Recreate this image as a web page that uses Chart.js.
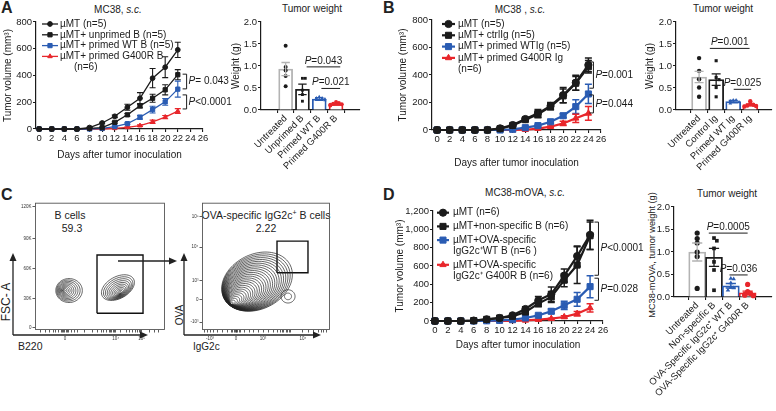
<!DOCTYPE html>
<html><head><meta charset="utf-8">
<script src="https://cdn.jsdelivr.net/npm/chart.js@4.4.1/dist/chart.umd.min.js"></script>
<style>
body{margin:0;width:776px;height:411px;position:relative;background:#fff;overflow:hidden;font-family:"Liberation Sans",Arial,Helvetica,sans-serif;color:#222;}
canvas{position:absolute;}
.t{position:absolute;font-size:10px;line-height:12px;white-space:nowrap;transform:translateX(-50%);}
.L{position:absolute;font-weight:bold;font-size:16px;line-height:16px;}
.rot{position:absolute;white-space:nowrap;transform:translate(-50%,-50%) rotate(-90deg);}
</style></head><body>
<div class="L" style="left:1px;top:0px">A</div>
<div class="L" style="left:383px;top:0px">B</div>
<div class="L" style="left:1px;top:187px">C</div>
<div class="L" style="left:383px;top:187px">D</div>
<div class="t" style="left:118px;top:4px">MC38, <i>s.c.</i></div>
<div class="t" style="left:312px;top:3px">Tumor weight</div>
<div class="t" style="left:520px;top:4px">MC38 , <i>s.c.</i></div>
<div class="t" style="left:723px;top:3px">Tumor weight</div>
<div class="t" style="left:525px;top:187px">MC38-mOVA, <i>s.c.</i></div>
<div class="t" style="left:727px;top:188px">Tumor weight</div>
<div class="t" style="left:70px;top:209px;font-size:10.5px">B cells</div>
<div class="t" style="left:72px;top:222px;font-size:10.5px">59.3</div>
<div class="t" style="left:266px;top:209px;font-size:10.5px">OVA-specific IgG2c<sup style="font-size:7px;line-height:0">+</sup> B cells</div>
<div class="t" style="left:266px;top:222px;font-size:10.5px">2.22</div>
<div class="rot" style="left:6px;top:302px;font-size:12px">FSC- A</div>
<div style="position:absolute;left:18px;top:340px;font-size:10.5px">B220</div>
<div class="rot" style="left:179px;top:315px;font-size:10px">OVA</div>
<div style="position:absolute;left:193px;top:341px;font-size:10px">IgG2c</div>
<div class="rot" style="left:652px;top:255px;font-size:9.2px">MC38-mOVA, tumor weight (g)</div>
<svg width="776" height="411" style="position:absolute;left:0;top:0;pointer-events:none;z-index:5">
<g stroke="#222" stroke-width="1.3" fill="none">
<line x1="13" y1="335" x2="13" y2="259"/><line x1="13" y1="335" x2="142" y2="335"/>
<line x1="184" y1="335" x2="184" y2="259"/><line x1="184" y1="335" x2="315" y2="335"/>
<line x1="118" y1="261" x2="171" y2="261"/>
</g>
<g fill="#222">
<polygon points="13,253 9.5,261 16.5,261"/><polygon points="148,335 140,331.5 140,338.5"/>
<polygon points="184,253 180.5,261 187.5,261"/><polygon points="321,335 313,331.5 313,338.5"/>
<polygon points="177,261 169,257.5 169,264.5"/>
</g></svg>
<script>
// ================= DATA =================
const dayTicks = [0,2,4,6,8,10,12,14,16,18,20,22,24,26];
const daysA  = [0,2,4,6,8,10,12,14,16,18,20,22];
const daysBD = [0,2,4,6,8,10,12,14,16,18,20,22,24];

// Panel A – tumor volume
const aMuMT        = [0,0,0,0,11,45,95,163,230,380,462,592];
const aMuMTErr     = [0,0,0,0,3,6,10,22,42,72,78,57];
const aUnprimed    = [0,0,0,0,5,10,50,106,173,230,293,406];
const aUnprimedErr = [0,0,0,0,2,3,6,10,15,30,38,38];
const aWT          = [0,0,0,0,0,4,18,40,88,145,203,298];
const aWTErr       = [0,0,0,0,0,2,4,6,14,25,25,60];
const aG400R       = [0,0,0,0,0,0,5,12,25,54,89,134];
const aG400RErr    = [0,0,0,0,0,0,2,4,6,12,12,18];
// Panel A – tumor weight
const aCats   = ['Untreated','Unprimed B','Primed WT B','Primed G400R B'];
const aMeans  = [0.93,0.47,0.25,0.13];
const aSems   = [0.15,0.12,0.03,0.02];
const aDots   = [[1.46,0.98,0.9,0.77,0.54],[0.72,0.72,0.45,0.35,0.2],[0.3,0.27,0.27,0.25,0.22],[0.18,0.16,0.14,0.13,0.12,0.1]];

// Panel B – tumor volume
const bMuMT      = [0,0,0,0,0,12,36,80,121,175,254,344,473];
const bMuMTErr   = [0,0,0,0,0,3,5,8,28,25,55,55,50];
const bCtrl      = [0,0,0,0,0,10,33,75,115,170,248,340,460];
const bCtrlErr   = [0,0,0,0,0,3,5,8,25,22,50,50,45];
const bWT        = [0,0,0,0,0,0,5,17,32,60,104,170,262];
const bWTErr     = [0,0,0,0,0,0,2,4,6,10,15,50,70];
const bG400R     = [0,0,0,0,0,0,0,2,10,24,48,85,121];
const bG400RErr  = [0,0,0,0,0,0,0,1,3,6,15,30,50];
// Panel B – tumor weight
const bCats  = ['Untreated','Control Ig','Primed WT Ig','Primed G400R Ig'];
const bMeans = [0.75,0.69,0.19,0.12];
const bSems  = [0.13,0.13,0.03,0.02];
const bDots  = [[1.18,0.89,0.7,0.51,0.3],[1.12,0.74,0.69,0.51,0.3],[0.22,0.22,0.2,0.18,0.15],[0.2,0.13,0.12,0.1,0.09,0.08]];

// Panel D – tumor volume
const dMuMT     = [0,0,0,5,18,33,62,131,226,292,496,708,940];
const dMuMTErr  = [0,0,0,2,5,8,12,25,40,80,70,110,160];
const dNon      = [0,0,0,5,18,33,51,98,190,263,445,610,930];
const dNonErr   = [0,0,0,2,5,8,10,20,35,60,70,200,150];
const dWT       = [0,0,0,0,2,7,15,33,62,106,171,237,375];
const dWTErr    = [0,0,0,0,1,2,3,6,10,25,45,75,120];
const dG400R    = [0,0,0,0,0,0,2,7,15,25,44,80,142];
const dG400RErr = [0,0,0,0,0,0,1,2,4,6,12,25,45];
// Panel D – tumor weight
const dCats  = ['Untreated','Non-specific B','OVA-Specific IgG2c\u207A WT B','OVA-Specific IgG2c\u207A G400R B'];
const dMeans = [1.0,0.88,0.25,0.09];
const dSems  = [0.2,0.2,0.05,0.04];
const dDots  = [[1.42,1.3,1.2,1.0,0.9,0.19],[1.31,1.25,1.08,0.78,0.6,0.15],[0.41,0.4,0.31,0.21,0.2,0.15],[0.28,0.12,0.08,0.06,0.04,0.03]];

// Panel C – flow cytometry (display channel units 0–100)
const flow1Gate   = [47.7,83.1,13.2,58.9];      // x1,x2,y1,y2
const flow2Gate   = [58.6,82.8,45.0,69.8];
const flow1YTicks = [1.8,24.8,48,72,97];   const flow1YLabels = ['0','30K','60K','90K','120K'];
const flow1XTicks = [23,62,82];            const flow1XLabels = ['0','10\u2074','10\u2075'];
const flow2YTicks = [6.2,24,38.8,65,89];   const flow2YLabels = ['-10\u00B3','0','10\u00B3','10\u2074','10\u2075'];
const flow2XTicks = [6.3,26.6,47.7,78.9];  const flow2XLabels = ['-10\u00B3','0','10\u00B3','10\u2074'];
const flow1XMinor = [4,8,11,14,16,18,20,21,22,24,25,26,28,30,33,38,44,48,51,53,55,57,58,59,60,61,66,70,73,75,77,79,80,81,88,92,95];
const flow2XMinor = [2,4,9,12,16,20,23,24,25,26,27,28,29,30,33,37,40,44,52,56,59,61,63,64,66,67,68,69,83,87,91,93,95,97];
// contour populations: [coreX, coreY, outerX, outerY, rx, ry, rotation, levels, spacing exponent]
const flow1Pops = [[21.8,31,26.2,31,10.2,9.4,0,11,1.3],[65.4,28.7,63.8,33.3,13.8,8.5,30,12,1.3]];
const flow2Pops = [[22.5,20.5,43,38,29,21.5,27,28,1.0],[67.2,26.4,67.2,26.4,5.5,5.2,0,2,1.0]];

// ================= HELPERS =================
const FONT = '"Liberation Sans", Arial, Helvetica, sans-serif';
Chart.defaults.font.family = FONT;
Chart.defaults.color = '#222';
const BLK = '#1b1b1b', BLUE = '#2a5cb3', RED = '#e8262b', GREY = '#b3b3b3';
const ANN = {};

function place(id, area, m) {
  const c = document.createElement('canvas');
  c.id = id;
  const w = Math.round(area.r - area.l + m.l + m.r), h = Math.round(area.b - area.t + m.t + m.b);
  c.width = w; c.height = h;
  c.style.left = (area.l - m.l) + 'px'; c.style.top = (area.t - m.t) + 'px';
  c.style.width = w + 'px'; c.style.height = h + 'px';
  document.body.appendChild(c);
  return c;
}
function pText(ctx, str, x, y, align, size) {
  const it = 'italic ' + size + 'px ' + FONT, nm = size + 'px ' + FONT;
  ctx.font = it; const w1 = ctx.measureText('P').width;
  ctx.font = nm; const w2 = ctx.measureText(str.slice(1)).width;
  const x0 = align === 'center' ? x - (w1 + w2) / 2 : x;
  ctx.textAlign = 'left'; ctx.textBaseline = 'middle';
  ctx.font = it; ctx.fillText('P', x0, y);
  ctx.font = nm; ctx.fillText(str.slice(1), x0 + w1, y);
}
function drawErrs(chart, kind) {
  const ctx = chart.ctx, ys = chart.scales.y;
  chart.data.datasets.forEach((ds, di) => {
    if (!ds.errors) return;
    if ((ds.type || chart.config.type) !== kind) return;
    const meta = chart.getDatasetMeta(di);
    ctx.save();
    ctx.lineWidth = ds.errWidth || 1.2;
    meta.data.forEach((el, i) => {
      const e = ds.errors[i]; if (!e) return;
      const v = ds.data[i].y;
      ctx.strokeStyle = Array.isArray(ds.borderColor) ? ds.borderColor[i] : ds.borderColor;
      const x = el.x, y1 = ys.getPixelForValue(v + e), y2 = ys.getPixelForValue(v - e), cw = ds.capW || 3;
      ctx.beginPath();
      ctx.moveTo(x, y1); ctx.lineTo(x, y2);
      ctx.moveTo(x - cw, y1); ctx.lineTo(x + cw, y1);
      ctx.moveTo(x - cw, y2); ctx.lineTo(x + cw, y2);
      ctx.stroke();
    });
    ctx.restore();
  });
}
const errPlugin = {
  id: 'errs',
  beforeDatasetsDraw(chart) { drawErrs(chart, 'line'); },
  afterDatasetsDraw(chart) { drawErrs(chart, 'bar'); }
};
const annotPlugin = {
  id: 'annot',
  afterDraw(chart) {
    const o = ANN[chart.canvas.id]; if (!o) return;
    const ctx = chart.ctx, xs = chart.scales.x, ys = chart.scales.y;
    const cl = parseFloat(chart.canvas.style.left), ct = parseFloat(chart.canvas.style.top);
    const fs = o.fs || 10;
    ctx.save();
    ctx.strokeStyle = BLK; ctx.fillStyle = BLK; ctx.lineWidth = 1;
    (o.brackets || []).forEach(b => {
      const x = xs.getPixelForValue(b.x), y1 = ys.getPixelForValue(b.y1), y2 = ys.getPixelForValue(b.y2);
      ctx.beginPath(); ctx.moveTo(x - 4, y1); ctx.lineTo(x, y1); ctx.lineTo(x, y2); ctx.lineTo(x - 4, y2); ctx.stroke();
      pText(ctx, b.text, x + 2, (y1 + y2) / 2, 'left', fs);
    });
    (o.sigs || []).forEach(s => {
      const xa = xs.getPixelForValue(s.from), xb = xs.getPixelForValue(s.to), y = ys.getPixelForValue(s.y);
      ctx.beginPath(); ctx.moveTo(xa, y); ctx.lineTo(xb, y); ctx.stroke();
      pText(ctx, s.text, (xa + xb) / 2, y - 6, 'center', fs);
    });
    if (o.legend) {
      const L = o.legend;
      let y = L.y - ct;
      L.items.forEach(it => {
        const ds = chart.data.datasets[it.ds];
        const x1 = L.x1 - cl, x2 = L.x2 - cl;
        ctx.strokeStyle = ds.borderColor; ctx.lineWidth = ds.borderWidth;
        ctx.beginPath(); ctx.moveTo(x1, y); ctx.lineTo(x2, y); ctx.stroke();
        ctx.fillStyle = ds.pointBackgroundColor; ctx.lineWidth = 1;
        Chart.helpers.drawPoint(ctx, {pointStyle: ds.pointStyle, radius: ds.pointRadius, rotation: 0, borderWidth: 1}, (x1 + x2) / 2, y);
        ctx.fillStyle = BLK; ctx.font = (L.fs || 10) + 'px ' + FONT; ctx.textAlign = 'left'; ctx.textBaseline = 'middle';
        it.lines.forEach((ln, k) => { ctx.fillText(ln, L.tx - cl, y); y += L.rowH; });
        y += L.gap || 0;
      });
    }
    ctx.restore();
  }
};
function lineDS(label, days, vals, errs, color, style, lw, r, cap) {
  return {label, data: days.map((d, i) => ({x: d, y: vals[i]})), errors: errs, borderColor: color, backgroundColor: color,
    pointBackgroundColor: color, pointBorderColor: color, pointStyle: style, pointRadius: r, borderWidth: lw,
    pointBorderWidth: 1, tension: 0, clip: false, capW: cap, errWidth: lw > 1.5 ? 1.5 : 1.1};
}
function axisCommon() {
  return {grid: {drawOnChartArea: false, tickLength: 3, color: BLK, lineWidth: 1.1}, border: {color: BLK, width: 1.2}};
}
function makeLine(id, area, m, datasets, xr, ymax, yTitlePad, xTitlePad) {
  const cv = place(id, area, m);
  const ax = axisCommon(), ay = axisCommon();
  return new Chart(cv, {
    type: 'line',
    data: {datasets},
    options: {
      responsive: false, animation: false, devicePixelRatio: 1,
      layout: {padding: {top: m.t, right: m.r, left: 0, bottom: 0}},
      plugins: {legend: {display: false}, tooltip: {enabled: false}},
      scales: {
        x: Object.assign(ax, {type: 'linear', min: xr[0], max: xr[1], afterFit: s => { s.height = m.b; },
          ticks: {stepSize: 2, includeBounds: false, font: {size: 9.5}, color: BLK, padding: 1, maxRotation: 0, autoSkip: false},
          title: {display: true, text: 'Days after tumor inoculation', font: {size: 10}, color: BLK, padding: {top: 0, bottom: xTitlePad}}}),
        y: Object.assign(ay, {type: 'linear', min: 0, max: ymax, afterFit: s => { s.width = m.l; },
          ticks: {stepSize: 200, font: {size: 9.5}, color: BLK, padding: 1},
          title: {display: true, text: 'Tumor volume (mm\u00B3)', font: {size: 10}, color: BLK, padding: {top: yTitlePad, bottom: 0}}})
      }
    },
    plugins: [errPlugin, annotPlugin]
  });
}
function swarm(vals, tol, step) {
  const placed = [];
  return vals.map(v => {
    const near = placed.filter(p => Math.abs(p - v) < tol).length;
    placed.push(v);
    const dx = near === 0 ? 0 : (near % 2 ? 1 : -1) * Math.ceil(near / 2) * step;
    return {x: dx, y: v};
  });
}
function makeBar(id, area, m, cats, means, sems, dots, barCols, dotCols, dotStyles, xr, yTitle, yFont, yPad, barW, dotR, catFont) {
  const cv = place(id, area, m);
  const datasets = [{type: 'bar', data: means.map((v, i) => ({x: i, y: v})), errors: sems, backgroundColor: '#fff',
    borderColor: barCols, borderWidth: 1.8, barThickness: barW, order: 2, capW: barW * 0.3, errWidth: 1.3}];
  dots.forEach((arr, gi) => {
    datasets.push({type: 'scatter', data: swarm(arr, 0.07, 0.17).map(p => ({x: gi + p.x, y: p.y})), pointStyle: dotStyles[gi],
      pointRadius: dotR, backgroundColor: dotCols[gi], borderColor: dotCols[gi], pointBorderWidth: 0, order: 1, clip: false});
  });
  const ax = axisCommon(), ay = axisCommon();
  return new Chart(cv, {
    type: 'bar',
    data: {datasets},
    options: {
      responsive: false, animation: false, devicePixelRatio: 1,
      layout: {padding: {top: m.t, right: m.r, left: 0, bottom: 0}},
      plugins: {legend: {display: false}, tooltip: {enabled: false}},
      scales: {
        x: Object.assign(ax, {type: 'linear', min: xr[0], max: xr[1], afterFit: s => { s.height = m.b; },
          afterBuildTicks: s => { s.ticks = cats.map((c, i) => ({value: i})); },
          ticks: {callback: v => cats[v], minRotation: 45, maxRotation: 45, font: {size: catFont}, color: BLK, padding: 0, autoSkip: false}}),
        y: Object.assign(ay, {type: 'linear', min: 0, max: 2, afterFit: s => { s.width = m.l; },
          ticks: {stepSize: 0.5, callback: v => v.toFixed(1), font: {size: 9.5}, color: BLK, padding: 1},
          title: {display: !!yTitle, text: yTitle, font: {size: yFont}, color: BLK, padding: {top: yPad, bottom: 0}}})
      }
    },
    plugins: [errPlugin, annotPlugin]
  });
}
function ellipse(cx, cy, rx, ry, rot) {
  const a = rot * Math.PI / 180, pts = [];
  for (let k = 0; k <= 56; k++) {
    const t = k / 56 * 2 * Math.PI, ex = rx * Math.cos(t), ey = ry * Math.sin(t);
    pts.push({x: cx + ex * Math.cos(a) - ey * Math.sin(a), y: cy + ex * Math.sin(a) + ey * Math.cos(a)});
  }
  return pts;
}
const boxPlugin = {
  id: 'box',
  afterDraw(chart) {
    const a = chart.chartArea, ctx = chart.ctx;
    ctx.save(); ctx.strokeStyle = '#555'; ctx.lineWidth = 0.9;
    ctx.strokeRect(a.left + 0.5, a.top + 0.5, a.right - a.left - 1, a.bottom - a.top - 1); ctx.restore();
  }
};
function makeFlow(id, area, m, pops, gate, xt, xl, xMinor, yt, yl) {
  const cv = place(id, area, m);
  const datasets = [];
  pops.forEach(p => {
    const [cx0, cy0, cx1, cy1, rx, ry, rot, n, pw] = p;
    for (let k = 1; k <= n; k++) {
      const s = Math.pow(k / n, pw);
      datasets.push({data: ellipse(cx0 + (cx1 - cx0) * s, cy0 + (cy1 - cy0) * s, rx * s, ry * s, rot), showLine: true,
        pointRadius: 0, borderColor: '#222', borderWidth: 0.7, tension: 0.3});
    }
  });
  const [gx1, gx2, gy1, gy2] = gate;
  datasets.push({data: [{x: gx1, y: gy1}, {x: gx2, y: gy1}, {x: gx2, y: gy2}, {x: gx1, y: gy2}, {x: gx1, y: gy1}],
    showLine: true, pointRadius: 0, borderColor: '#111', borderWidth: 1.4});
  const tickAll = xt.map(v => ({value: v})).concat(xMinor.map(v => ({value: v})));
  return new Chart(cv, {
    type: 'scatter',
    data: {datasets},
    options: {
      responsive: false, animation: false, devicePixelRatio: 1,
      layout: {padding: {top: m.t, right: m.r, left: 0, bottom: 0}},
      plugins: {legend: {display: false}, tooltip: {enabled: false}},
      scales: {
        x: {min: 0, max: 100, afterFit: s => { s.height = m.b; }, afterBuildTicks: s => { s.ticks = tickAll; },
          ticks: {callback: (v) => { const i = xt.indexOf(v); return i >= 0 ? xl[i] : ''; }, font: {size: 4.5}, color: '#333', padding: 4, autoSkip: false, maxRotation: 0},
          grid: {drawOnChartArea: false, tickLength: 2.5, color: '#333', lineWidth: 0.8}, border: {display: false}},
        y: {min: 0, max: 100, afterFit: s => { s.width = m.l; }, afterBuildTicks: s => { s.ticks = yt.map(v => ({value: v})); },
          ticks: {callback: (v) => { const i = yt.indexOf(v); return i >= 0 ? yl[i] : ''; }, font: {size: 4.5}, color: '#333', padding: 1, autoSkip: false},
          grid: {drawOnChartArea: false, tickLength: 2.5, color: '#333', lineWidth: 0.8}, border: {display: false}}
      }
    },
    plugins: [boxPlugin]
  });
}

// ================= PANEL A =================
ANN.aLine = {fs: 10,
  brackets: [{x: 23.4, y1: 410, y2: 300, text: 'P= 0.043'}, {x: 23.4, y1: 255, y2: 150, text: 'P<0.0001'}],
  legend: {x1: 42, x2: 58, tx: 60, y: 24, rowH: 10.8, gap: 0, fs: 10, items: [
    {ds: 0, lines: ['\u00B5MT (n=5)']}, {ds: 1, lines: ['\u00B5MT+ unprimed B (n=5)']},
    {ds: 2, lines: ['\u00B5MT+ primed WT B (n=5)']}, {ds: 3, lines: ['\u00B5MT+ primed G400R B', '     (n=6)']}]}};
makeLine('aLine', {l: 36, r: 203, t: 22, b: 129}, {l: 36, t: 22, r: 42, b: 35}, [
  lineDS('uMT', daysA, aMuMT, aMuMTErr, BLK, 'circle', 1.3, 2.4, 3),
  lineDS('unprimed', daysA, aUnprimed, aUnprimedErr, BLK, 'rect', 1.3, 3, 3),
  lineDS('WT', daysA, aWT, aWTErr, BLUE, 'rect', 1.3, 3, 3),
  lineDS('G400R', daysA, aG400R, aG400RErr, RED, 'triangle', 1.3, 2.6, 3)
], [-0.5, 26], 800, 2, 3);

ANN.aBar = {fs: 10, sigs: [{from: 1.25, to: 3.25, y: 0.98, text: 'P=0.043'}, {from: 2.13, to: 3.24, y: 0.49, text: 'P=0.021'}]};
makeBar('aBar', {l: 261, r: 360, t: 22, b: 110}, {l: 46, t: 10, r: 8, b: 66}, aCats, aMeans, aSems, aDots,
  [GREY, BLK, BLUE, RED], [BLK, BLK, BLUE, RED], ['circle', 'rect', 'triangle', 'circle'], [-0.73, 3.69],
  'Weight (g)', 10, 15.7, 14, 2, 9.5);

// ================= PANEL B =================
ANN.bLine = {fs: 10,
  brackets: [{x: 24.8, y1: 495, y2: 304, text: 'P=0.001'}, {x: 24.8, y1: 255, y2: 124, text: 'P=0.044'}],
  legend: {x1: 442, x2: 455, tx: 458, y: 24, rowH: 11.3, gap: 0, fs: 10, items: [
    {ds: 0, lines: ['\u00B5MT (n=5)']}, {ds: 1, lines: ['\u00B5MT+ ctrlIg (n=5)']},
    {ds: 2, lines: ['\u00B5MT+ primed WTIg (n=5)']}, {ds: 3, lines: ['\u00B5MT+ primed G400R Ig', '(n=6)']}]}};
makeLine('bLine', {l: 432, r: 601, t: 20, b: 130}, {l: 40, t: 20, r: 45, b: 40}, [
  lineDS('uMT', daysBD, bMuMT, bMuMTErr, BLK, 'circle', 2.2, 3.6, 3.5),
  lineDS('ctrl', daysBD, bCtrl, bCtrlErr, BLK, 'rect', 2.2, 4.3, 3.5),
  lineDS('WT', daysBD, bWT, bWTErr, BLUE, 'rect', 2.2, 4.3, 3.5),
  lineDS('G400R', daysBD, bG400R, bG400RErr, RED, 'triangle', 2.2, 3.6, 3.5)
], [-0.8, 26], 800, 5, 1);

ANN.bBar = {fs: 10, sigs: [{from: 0.63, to: 2.96, y: 1.40, text: 'P=0.001'}, {from: 2.03, to: 3.05, y: 0.47, text: 'P=0.025'}]};
makeBar('bBar', {l: 676, r: 772, t: 22, b: 110}, {l: 46, t: 10, r: 4, b: 80}, bCats, bMeans, bSems, bDots,
  [GREY, BLK, BLUE, RED], [BLK, BLK, BLUE, RED], ['circle', 'rect', 'triangle', 'circle'], [-0.65, 3.57],
  'Weight (g)', 10, 14.7, 15, 2.2, 9.5);

// ================= PANEL C =================
makeFlow('flow1', {l: 35, r: 165, t: 201, b: 330}, {l: 20, t: 2, r: 2, b: 14}, flow1Pops, flow1Gate,
  flow1XTicks, flow1XLabels, flow1XMinor, flow1YTicks, flow1YLabels);
makeFlow('flow2', {l: 202, r: 330, t: 201, b: 330}, {l: 16, t: 2, r: 2, b: 14}, flow2Pops, flow2Gate,
  flow2XTicks, flow2XLabels, flow2XMinor, flow2YTicks, flow2YLabels);

// ================= PANEL D =================
ANN.dLine = {fs: 10,
  brackets: [{x: 25.3, y1: 1079, y2: 499, text: 'P<0.0001'}, {x: 25.3, y1: 467, y2: 226, text: 'P=0.028'}],
  legend: {x1: 437, x2: 449, tx: 453, y: 212.7, rowH: 11, gap: 2.7, fs: 10, items: [
    {ds: 0, lines: ['\u00B5MT (n=6)']}, {ds: 1, lines: ['\u00B5MT+non-specific B (n=6)']},
    {ds: 2, lines: ['\u00B5MT+OVA-specific', 'IgG2c\u207AWT B (n=6 )']}, {ds: 3, lines: ['\u00B5MT+OVA-specific', 'IgG2c\u207A G400R B (n=6)']}]}};
makeLine('dLine', {l: 433, r: 603, t: 211, b: 321}, {l: 41, t: 12, r: 45, b: 36}, [
  lineDS('uMT', daysBD, dMuMT, dMuMTErr, BLK, 'circle', 2.2, 3.6, 3.5),
  lineDS('non', daysBD, dNon, dNonErr, BLK, 'rect', 2.2, 4.3, 3.5),
  lineDS('WT', daysBD, dWT, dWTErr, BLUE, 'rect', 2.2, 4.3, 3.5),
  lineDS('G400R', daysBD, dG400R, dG400RErr, RED, 'triangle', 2.2, 3.6, 3.5)
], [-0.3, 26], 1200, 2, 6);

ANN.dBar = {fs: 10, sigs: [{from: 0.69, to: 3.0, y: 1.42, text: 'P=0.0005'}, {from: 1.92, to: 3.0, y: 0.49, text: 'P=0.036'}]};
makeBar('dBar', {l: 674, r: 775, t: 207, b: 297}, {l: 48, t: 8, r: 1, b: 114}, dCats, dMeans, dSems, dDots,
  [GREY, BLK, BLUE, RED], [BLK, BLK, BLUE, RED], ['circle', 'rect', 'triangle', 'circle'], [-0.65, 3.72],
  '', 9, 20.6, 17, 2.6, 9.5);
</script>
</body></html>
